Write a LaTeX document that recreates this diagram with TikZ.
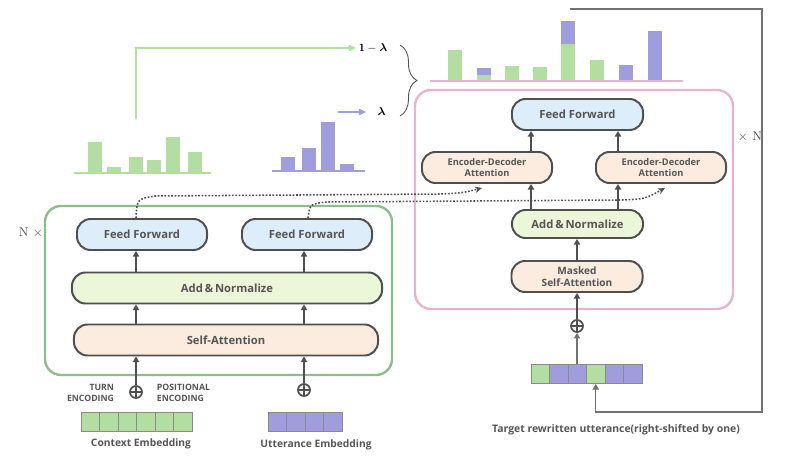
\documentclass[tikz,border=0pt]{standalone}
\usepackage{amsmath}
\usepackage{fontspec}
\newfontfamily\lato{Open Sans}
\usetikzlibrary{arrows.meta,decorations.pathreplacing}

\definecolor{ink}{HTML}{4F4F4F}
\definecolor{txt}{HTML}{555555}
\definecolor{ffblue}{HTML}{DDEDFA}
\definecolor{angreen}{HTML}{EBF7D8}
\definecolor{attpeach}{HTML}{FCECE0}
\definecolor{encgreen}{HTML}{8FBC8B}
\definecolor{decpink}{HTML}{E4B6CE}
\definecolor{cgreen}{HTML}{B3DEA1}
\definecolor{cpurple}{HTML}{A09DDD}
\definecolor{cellgray}{HTML}{8A8A8A}

\begin{document}
\begin{tikzpicture}[x=0.025cm, y=-0.025cm,
    blk/.style={draw=ink, line width=1.4pt, rounded corners=0.34cm, minimum height=0.775cm,
      inner sep=1pt, align=center, text=txt, font=\lato\bfseries\fontsize{8}{9.5}\selectfont},
    ff/.style={blk, fill=ffblue},
    an/.style={blk, fill=angreen},
    att/.style={blk, fill=attpeach},
    up/.style={draw=ink, line width=1.4pt, -{Triangle[length=4pt,width=4.5pt]}},
    upthin/.style={draw=ink!80, line width=0.8pt, -{Triangle[length=4pt,width=4.5pt]}},
    addc/.style={circle, draw=ink, line width=1.2pt, minimum size=0.3cm, inner sep=0pt,
      path picture={\draw[ink, line width=1.1pt]
        (path picture bounding box.north) -- (path picture bounding box.south)
        (path picture bounding box.west) -- (path picture bounding box.east);}},
    cell/.style={draw=cellgray, line width=0.6pt, minimum width=0.4625cm, minimum height=0.475cm, inner sep=0pt},
    dots/.style={draw=ink, line width=1.1pt, dash pattern=on 1.2pt off 1.2pt, -{Stealth[length=5pt,width=4.5pt]}},
    small/.style={text=txt, font=\lato\bfseries\fontsize{6.2}{7.4}\selectfont},
    lbl/.style={text=txt, font=\lato\bfseries\fontsize{7.3}{8.5}\selectfont}]

\useasboundingbox (0,0) rectangle (800,458);

% encoder
\draw[encgreen, line width=1.7pt, rounded corners=0.4cm] (45,206) rectangle (392,375);
\node[font=\fontsize{9}{10}\selectfont, text=ink] (nenc) at (31,233) {N $\times$};

\node[att, minimum width=7.6cm] (sa) at (226,340) {Self-Attention};
\node[an, minimum width=7.75cm] (an) at (227,288) {Add\,\&\,Normalize};
\node[ff, minimum width=3.25cm] (ff1) at (142,234.5) {Feed Forward};
\node[ff, minimum width=3.25cm] (ff2) at (307,234.5) {Feed Forward};

\coordinate (c1) at (136,0);
\coordinate (c2) at (304,0);
\draw[up] (sa.north -| c1) to (an.south -| c1);
\draw[up] (sa.north -| c2) to (an.south -| c2);
\draw[up] (an.north -| c1) to (ff1.south -| c1);
\draw[up] (an.north -| c2) to (ff2.south -| c2);

\node[addc] (p1) at (136,392) {};
\node[addc] (p2) at (304,390) {};
\draw[up] (p1) to (sa.south -| c1);
\draw[up] (p2) to (sa.south -| c2);

\node[small, anchor=east, align=right] (turn) at (119,393) {TURN\\ENCODING};
\node[small, anchor=west, align=left] (pos) at (152,393) {POSITIONAL\\ENCODING};

\foreach \i in {1,...,6}
  \node[cell, fill=cgreen] (ce\i) at (71.75+\i*18.5,421.5) {};
\foreach \i in {1,...,4}
  \node[cell, fill=cpurple] (ue\i) at (258.75+\i*18.5,421.5) {};
\node[lbl] (ctx) at (141,444) {Context Embedding};
\node[lbl] (utt) at (316,445) {Utterance Embedding};

% decoder
\draw[decpink, line width=1.7pt, rounded corners=0.4cm] (415,90) rectangle (733,309);
\node[font=\fontsize{9}{10}\selectfont, text=ink] (ndec) at (750,137) {$\times$ N};

\node[ff, minimum width=3.275cm] (dff) at (577.5,114.5) {Feed Forward};
\node[att, minimum width=3.25cm, font=\lato\bfseries\fontsize{6.6}{7.6}\selectfont] (eda1) at (487,167.5) {Encoder-Decoder\\Attention};
\node[att, minimum width=3.25cm, font=\lato\bfseries\fontsize{6.6}{7.6}\selectfont] (eda2) at (661,167.5) {Encoder-Decoder\\Attention};
\node[an, minimum width=3.275cm, minimum height=0.7cm] (dan) at (577.5,224) {Add\,\&\,Normalize};
\node[att, minimum width=3.275cm, font=\lato\bfseries\fontsize{7.2}{8.6}\selectfont] (msa) at (577,276.5) {Masked\\Self-Attention};

\coordinate (c3) at (531,0);
\coordinate (c4) at (618,0);
\coordinate (c5) at (577,0);
\draw[up] (dan.north -| c3) to (eda1.south -| c3);
\draw[up] (dan.north -| c4) to (eda2.south -| c4);
\draw[up] (eda1.north -| c3) to (dff.south -| c3);
\draw[up] (eda2.north -| c4) to (dff.south -| c4);
\draw[up] (msa.north -| c5) to (dan.south -| c5);

\node[addc] (p3) at (577,326) {};
\draw[up] (p3) to (msa.south -| c5);

\foreach \i/\c in {1/cgreen,2/cpurple,3/cpurple,4/cgreen,5/cpurple,6/cpurple}
  \node[cell, fill=\c] (t\i) at (521.75+\i*18.5,374) {};
\draw[upthin] (t3.north -| c5) to (p3);
\node[lbl, font=\lato\bfseries\fontsize{7.4}{8.5}\selectfont] (tgt) at (616,430) {Target rewritten utterance(right-shifted by one)};

% feedback of the output
\coordinate (fb) at (570,9);
\draw[upthin] (fb) -- (762,9) -- (762,412) -| (t4.south);

% encoder output to decoder
\coordinate (c6) at (308,0);
\coordinate (ah1) at (482,188);
\coordinate (ah2) at (665,188);
\draw[dots] (ff1.north -| c1) .. controls (137,199) .. (155,196) -- (440,194) .. controls (462,193) .. (ah1);
\draw[dots] (ff2.north -| c6) .. controls (310,204) .. (326,202) -- (622,200) .. controls (645,199) .. (ah2);

% distributions
\draw[cgreen, line width=1pt] (74,173) -- (211,173);
\foreach \xa/\yt in {88/142,107/167,129/157,147/160,166/137,188/152}
  \fill[cgreen] (\xa,173) rectangle (\xa+14,\yt);
\draw[cpurple, line width=1pt] (272,171) -- (365,171);
\foreach \xa/\yt in {281/157,302/148,321/122,340/164}
  \fill[cpurple] (\xa,171) rectangle (\xa+14,\yt);

\draw[decpink, line width=1pt] (430,81) -- (683,81);
\foreach \xa/\yt in {448/50,477/75,505/66,533/67,561/44,590/60}
  \fill[cgreen] (\xa,80) rectangle (\xa+14,\yt);
\foreach \xa/\yb/\yt in {477/75/68,561/44/21,619/80/65,648/80/31}
  \fill[cpurple] (\xa,\yb) rectangle (\xa+14,\yt);

\node[anchor=west, inner sep=2pt, font=\fontsize{8}{9}\selectfont] (oml) at (356,48) {$\mathbf{1}-\boldsymbol{\lambda}$};
\node[anchor=west, inner xsep=8pt, font=\fontsize{8}{9}\selectfont] (lam) at (366,112) {$\boldsymbol{\lambda}$};
\coordinate (gs) at (136,119);
\coordinate (ps) at (338,112);
\draw[cgreen, line width=1pt, -{Triangle[length=5pt,width=4.5pt]}] (gs) |- (oml.west);
\draw[cpurple, line width=1pt, -{Triangle[length=5pt,width=4.5pt]}] (ps) -- (lam.west);
\draw[ink, line width=0.6pt, decorate, decoration={brace, amplitude=12pt}] (400,45) -- (400,116);
\end{tikzpicture}
\end{document}
